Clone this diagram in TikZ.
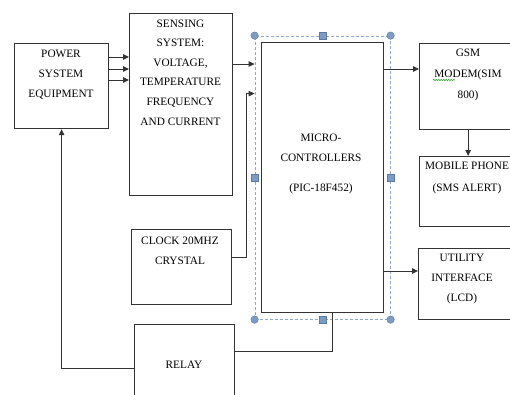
\documentclass[tikz,border=0pt]{standalone}
\usepackage{fontspec}
\setmainfont{Liberation Serif}
\usetikzlibrary{arrows.meta,positioning,fit,calc,decorations.pathmorphing}
\definecolor{selc}{HTML}{8FA9CC}
\definecolor{handlec}{HTML}{7E9BC3}
\definecolor{handled}{HTML}{5B7BA6}
\definecolor{spellc}{HTML}{3FA33F}

\begin{document}
\begin{tikzpicture}[x=1pt, y=-1pt,
  blk/.style={draw=black!80, line width=1.2pt, rectangle, anchor=north west, inner sep=0pt},
  lbl/.style={font=\fontsize{11.3}{19.6}\selectfont, align=center, anchor=base, inner sep=0pt},
  wire/.style={black!80, line width=1pt},
  arr/.style={wire, -{Triangle[length=6pt, width=5.5pt]}},
  hcirc/.style={circle, fill=handlec, draw=handled, line width=0.4pt, minimum size=7.5pt, inner sep=0pt},
  hsq/.style={rectangle, fill=handlec, draw=handled, line width=0.4pt, minimum size=7pt, inner sep=0pt}]
  \clip (0,0) rectangle (510,394);
  % blocks
  \node[blk, minimum width=94pt, minimum height=85pt] (pwr) at (14,43) {};
  \node[blk, minimum width=103pt, minimum height=182pt] (sens) at (129,13) {};
  \node[blk, minimum width=122pt, minimum height=270pt] (mcu) at (261,42) {};
  \node[blk, minimum width=100pt, minimum height=75pt] (clk) at (131,229) {};
  \node[blk, minimum width=100pt, minimum height=75pt] (relay) at (134,324) {};
  \node[blk, minimum width=97pt, minimum height=86pt] (gsm) at (419,43) {};
  \node[blk, minimum width=97pt, minimum height=70pt] (mob) at (419,156) {};
  \node[blk, minimum width=97pt, minimum height=71pt] (util) at (418,248) {};
  % texts (base = last line)
  \node[lbl] (pwrtxt) at (61,97) {POWER\\SYSTEM\\EQUIPMENT};
  \node[lbl] (senstxt) at (180.5,125) {SENSING\\SYSTEM:\\VOLTAGE,\\TEMPERATURE\\FREQUENCY\\AND CURRENT};
  \node[lbl] (mcutxt) at (321,191) {MICRO-\\CONTROLLERS\\[10pt](PIC-18F452)};
  \node[lbl] (clktxt) at (180,264) {CLOCK 20MHZ\\CRYSTAL};
  \node[lbl] (relaytxt) at (184,368) {RELAY};
  \node[lbl, font=\fontsize{11.3}{21}\selectfont] (gsmtxt) at (468,98) {GSM\\MODEM(SIM\\800)};
  \node[lbl, font=\fontsize{11.3}{22}\selectfont] (mobtxt) at (467,191) {MOBILE PHONE\\(SMS ALERT)};
  \node[lbl] (utiltxt) at (462,301) {UTILITY\\INTERFACE\\(LCD)};
  \draw[spellc, line width=0.6pt, decorate, decoration={snake, amplitude=0.7pt, segment length=2.5pt}] (433,80) -- (455,80);
  % selection frame
  \node[fit=(mcu), inner sep=6pt, draw=selc, line width=0.8pt, dash pattern=on 3pt off 2pt] (sel) {};
  % connectors
  \draw[arr] ([yshift=-14pt]pwr.north east) -- ([yshift=-44pt]sens.north west);
  \draw[arr] ([yshift=-26pt]pwr.north east) -- ([yshift=-56pt]sens.north west);
  \draw[arr] ([yshift=-37pt]pwr.north east) -- ([yshift=-67pt]sens.north west);
  \coordinate (s1) at ([yshift=-51pt]sens.north east);
  \draw[arr] (s1) -- (s1 -| sel.west);
  \coordinate (c1) at ([yshift=-28pt]clk.north east);
  \coordinate (c2) at ([yshift=-58pt]sel.north west);
  \draw[arr] (c1) -- ++(14,0) |- (c2);
  \coordinate (m1) at ([yshift=-27pt]mcu.north east);
  \draw[arr] (m1) -- (m1 -| gsm.west);
  \coordinate (m2) at ([yshift=-229pt]mcu.north east);
  \draw[arr] (m2) -- (m2 -| util.west);
  \draw[arr] (gsm.south) -- (gsm.south |- mob.north);
  \coordinate (r1) at ([yshift=-27pt]relay.north east);
  \draw[wire] (r1) -| ([xshift=10pt]mcu.south);
  \coordinate (r2) at ([yshift=-44pt]relay.north west);
  \draw[arr] (r2) -| (pwr.south);
  % handles
  \foreach \a/\s [count=\i] in {north west/hcirc, north/hsq, north east/hcirc, west/hsq, east/hsq, south west/hcirc, south/hsq, south east/hcirc}
    \node[\s] (hd\i) at (sel.\a) {};
\end{tikzpicture}
\end{document}
